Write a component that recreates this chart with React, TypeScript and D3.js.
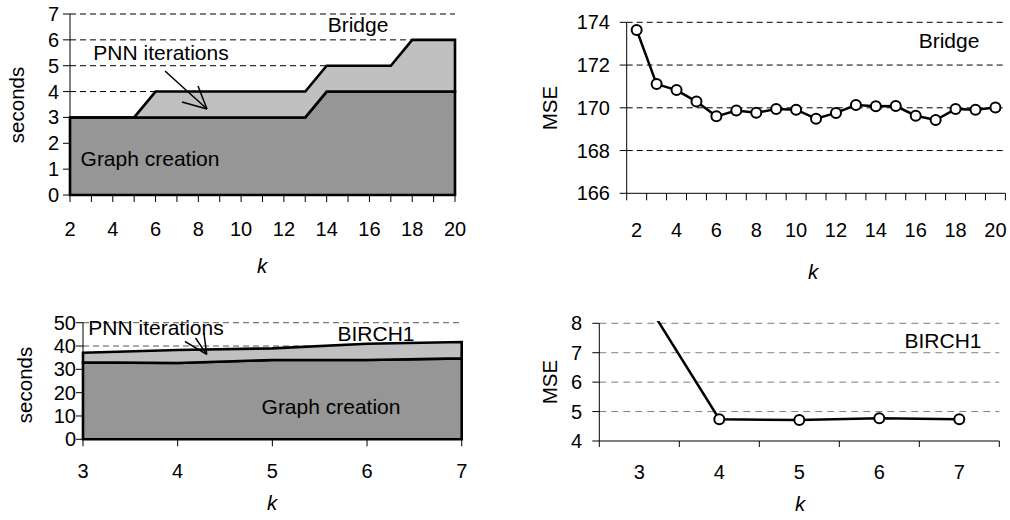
import React from "react";
import * as d3 from "d3";

// ---------- data ----------
const TL_K = [2, 3, 4, 5, 6, 7, 8, 9, 10, 11, 12, 13, 14, 15, 16, 17, 18, 19, 20];
const TL_GRAPH = [3, 3, 3, 3, 3, 3, 3, 3, 3, 3, 3, 3, 4, 4, 4, 4, 4, 4, 4];
const TL_PNN = [0, 0, 0, 0, 1, 1, 1, 1, 1, 1, 1, 1, 1, 1, 1, 1, 2, 2, 2];
const TL_YTICKS = [0, 1, 2, 3, 4, 5, 6, 7];
const TL_XLABELS = [2, 4, 6, 8, 10, 12, 14, 16, 18, 20];

const TR_K = [2, 3, 4, 5, 6, 7, 8, 9, 10, 11, 12, 13, 14, 15, 16, 17, 18, 19, 20];
const TR_MSE = [173.64, 171.11, 170.83, 170.29, 169.6, 169.87, 169.77, 169.94, 169.91, 169.49, 169.76, 170.13, 170.07, 170.08, 169.63, 169.43, 169.94, 169.91, 170.01];
const TR_YTICKS = [166, 168, 170, 172, 174];
const TR_XLABELS = [2, 4, 6, 8, 10, 12, 14, 16, 18, 20];

const BL_K = [3, 4, 5, 6, 7];
const BL_GRAPH = [33, 32.7, 34, 34, 34.7];
const BL_PNN = [4.1, 5.6, 5, 7, 7];
const BL_YTICKS = [0, 10, 20, 30, 40, 50];

const BR_K = [3, 4, 5, 6, 7];
const BR_MSE = [9.1, 4.74, 4.71, 4.77, 4.74];
const BR_YTICKS = [4, 5, 6, 7, 8];

const FONT = "'Liberation Sans', Arial, Helvetica, sans-serif";
const TICK_FS = 20;
const TITLE_FS = 20.5;
const ANN_FS = 21;

function T({ x, y, anchor = "middle", fs = TICK_FS, rot = 0, italic = false, children }: any) {
  return (
    <text
      transform={`translate(${x},${y}) rotate(${rot})`}
      textAnchor={anchor}
      fontSize={fs}
      fontFamily={FONT}
      fontStyle={italic ? "italic" : "normal"}
      fill="#000"
    >
      {children}
    </text>
  );
}

function TopLeft() {
  const x = d3.scaleLinear().domain([2, 20]).range([70, 455]);
  const y = d3.scaleLinear().domain([0, 7]).range([195, 14]);
  const gData = TL_K.map((k, i) => ({ k, y0: 0, y1: TL_GRAPH[i] }));
  const pData = TL_K.map((k, i) => ({ k, y0: TL_GRAPH[i], y1: TL_GRAPH[i] + TL_PNN[i] }));
  const area = d3
    .area<any>()
    .x((d) => x(d.k))
    .y0((d) => y(d.y0))
    .y1((d) => y(d.y1));
  return (
    <g>
      {TL_YTICKS.filter((v) => v > 0).map((v) => (
        <line key={v} x1={x(2)} x2={x(20)} y1={y(v)} y2={y(v)} stroke="#000" strokeDasharray="6,4" strokeWidth={1} />
      ))}
      <path d={area(gData) + "Z"} fill="#969696" stroke="#000" strokeWidth={2.6} strokeLinejoin="miter" />
      <path d={area(pData) + "Z"} fill="#c0c0c0" stroke="#000" strokeWidth={2.6} strokeLinejoin="miter" />
      <line x1={x(2)} x2={x(2)} y1={y(7)} y2={y(0)} stroke="#000" />
      <line x1={x(2)} x2={x(20)} y1={y(0)} y2={y(0)} stroke="#000" />
      {TL_YTICKS.map((v) => (
        <g key={v}>
          <line x1={x(2) - 7} x2={x(2)} y1={y(v)} y2={y(v)} stroke="#000" />
          <T x={x(2) - 11} y={y(v) + 7} anchor="end">{v}</T>
        </g>
      ))}
      {TL_K.map((k) => (
        <line key={k} x1={x(k)} x2={x(k)} y1={y(0)} y2={y(0) + 7} stroke="#000" />
      ))}
      {TL_XLABELS.map((k) => (
        <T key={k} x={x(k)} y={236}>{k}</T>
      ))}
      <T x={262} y={273} fs={TITLE_FS} italic>k</T>
      <T x={24} y={105} fs={TITLE_FS} rot={-90}>seconds</T>
      <T x={358} y={32} fs={ANN_FS}>Bridge</T>
      <T x={161} y={60} fs={ANN_FS}>PNN iterations</T>
      <T x={150} y={166} fs={ANN_FS}>Graph creation</T>
      <line x1={165} y1={71} x2={207} y2={109} stroke="#000" strokeWidth={1.5} />
      <line x1={182} y1={102} x2={207} y2={109} stroke="#000" strokeWidth={1.5} />
      <line x1={198} y1={86} x2={207} y2={109} stroke="#000" strokeWidth={1.5} />
    </g>
  );
}

function TopRight() {
  const x = d3.scaleBand<number>().domain(TR_K).range([626.7, 1005.4]);
  const y = d3.scaleLinear().domain([166, 174]).range([193.3, 22.3]);
  const cx = (k: number) => (x(k) as number) + x.bandwidth() / 2;
  const line = d3
    .line<number>()
    .x((_, i) => cx(TR_K[i]))
    .y((d) => y(d));
  const bounds = [...TR_K.map((k) => x(k) as number), 1005.4];
  return (
    <g>
      {TR_YTICKS.filter((v) => v > 166).map((v) => (
        <line key={v} x1={626.7} x2={1005.4} y1={y(v)} y2={y(v)} stroke="#000" strokeDasharray="6,4" strokeWidth={1} />
      ))}
      <line x1={626.7} x2={626.7} y1={y(174)} y2={y(166)} stroke="#000" />
      <line x1={626.7} x2={1005.4} y1={y(166)} y2={y(166)} stroke="#000" />
      {TR_YTICKS.map((v) => (
        <g key={v}>
          <line x1={619.7} x2={626.7} y1={y(v)} y2={y(v)} stroke="#000" />
          <T x={610} y={y(v) + 7} anchor="end">{v}</T>
        </g>
      ))}
      {bounds.map((b, i) => (
        <line key={i} x1={b} x2={b} y1={y(166)} y2={y(166) + 7} stroke="#000" />
      ))}
      {TR_XLABELS.map((k) => (
        <T key={k} x={cx(k)} y={237}>{k}</T>
      ))}
      <T x={813} y={279} fs={TITLE_FS} italic>k</T>
      <T x={557} y={108} fs={TITLE_FS} rot={-90}>MSE</T>
      <T x={949} y={48} fs={ANN_FS}>Bridge</T>
      <path d={line(TR_MSE) as string} fill="none" stroke="#000" strokeWidth={2.5} />
      {TR_MSE.map((v, i) => (
        <circle key={i} cx={cx(TR_K[i])} cy={y(v)} r={5} fill="#fff" stroke="#000" strokeWidth={2} />
      ))}
    </g>
  );
}

function BottomLeft() {
  const x = d3.scaleLinear().domain([3, 7]).range([83, 461.7]);
  const y = d3.scaleLinear().domain([0, 50]).range([439.3, 322.7]);
  const gData = BL_K.map((k, i) => ({ k, y0: 0, y1: BL_GRAPH[i] }));
  const pData = BL_K.map((k, i) => ({ k, y0: BL_GRAPH[i], y1: BL_GRAPH[i] + BL_PNN[i] }));
  const area = d3
    .area<any>()
    .x((d) => x(d.k))
    .y0((d) => y(d.y0))
    .y1((d) => y(d.y1));
  return (
    <g>
      {BL_YTICKS.filter((v) => v > 0).map((v) => (
        <line key={v} x1={x(3)} x2={x(7)} y1={y(v)} y2={y(v)} stroke="#555" strokeDasharray="6,4" strokeWidth={1} />
      ))}
      <path d={area(gData) + "Z"} fill="#969696" stroke="#000" strokeWidth={2.6} />
      <path d={area(pData) + "Z"} fill="#c0c0c0" stroke="#000" strokeWidth={2.6} />
      <line x1={x(3)} x2={x(3)} y1={y(50)} y2={y(0)} stroke="#000" />
      <line x1={x(3)} x2={x(7)} y1={y(0)} y2={y(0)} stroke="#000" />
      {BL_YTICKS.map((v) => (
        <g key={v}>
          <line x1={x(3) - 7} x2={x(3)} y1={y(v)} y2={y(v)} stroke="#000" />
          <T x={x(3) - 7} y={y(v) + 7} anchor="end">{v}</T>
        </g>
      ))}
      {BL_K.map((k) => (
        <g key={k}>
          <line x1={x(k)} x2={x(k)} y1={y(0)} y2={y(0) + 7} stroke="#000" />
          <T x={x(k)} y={478}>{k}</T>
        </g>
      ))}
      <T x={272} y={510} fs={TITLE_FS} italic>k</T>
      <T x={32} y={385} fs={TITLE_FS} rot={-90}>seconds</T>
      <T x={156} y={335} fs={ANN_FS}>PNN iterations</T>
      <T x={376} y={341} fs={ANN_FS}>BIRCH1</T>
      <T x={331} y={414} fs={ANN_FS}>Graph creation</T>
      <line x1={185} y1={341.5} x2={206.7} y2={354.3} stroke="#000" strokeWidth={1.5} />
      <line x1={195.5} y1={338} x2={206.7} y2={354.3} stroke="#000" strokeWidth={1.5} />
      <line x1={204} y1={333.5} x2={206.7} y2={354.3} stroke="#000" strokeWidth={1.5} />
    </g>
  );
}

function BottomRight() {
  const x = d3.scaleBand<number>().domain(BR_K).range([599.3, 999.3]);
  const y = d3.scaleLinear().domain([4, 8]).range([441, 323.3]);
  const cx = (k: number) => (x(k) as number) + x.bandwidth() / 2;
  const line = d3
    .line<number>()
    .x((_, i) => cx(BR_K[i]))
    .y((d) => y(d));
  const bounds = [...BR_K.map((k) => x(k) as number), 999.3];
  return (
    <g>
      <defs>
        <clipPath id="brclip">
          <rect x={599.3} y={321} width={400} height={122} />
        </clipPath>
      </defs>
      {BR_YTICKS.filter((v) => v > 4).map((v) => (
        <line key={v} x1={599.3} x2={999.3} y1={y(v)} y2={y(v)} stroke="#808080" strokeDasharray="7,5" strokeWidth={1} />
      ))}
      <line x1={599.3} x2={599.3} y1={y(8)} y2={y(4)} stroke="#000" />
      <line x1={599.3} x2={999.3} y1={y(4)} y2={y(4)} stroke="#000" />
      {BR_YTICKS.map((v) => (
        <g key={v}>
          <line x1={592.3} x2={599.3} y1={y(v)} y2={y(v)} stroke="#000" />
          <T x={582} y={y(v) + 7} anchor="end">{v}</T>
        </g>
      ))}
      {bounds.map((b, i) => (
        <line key={i} x1={b} x2={b} y1={y(4)} y2={y(4) + 6} stroke="#000" />
      ))}
      {BR_K.map((k) => (
        <T key={k} x={cx(k)} y={479}>{k}</T>
      ))}
      <T x={800} y={511} fs={TITLE_FS} italic>k</T>
      <T x={557} y={382} fs={TITLE_FS} rot={-90}>MSE</T>
      <T x={943} y={348} fs={ANN_FS}>BIRCH1</T>
      <g clipPath="url(#brclip)">
        <path d={line(BR_MSE) as string} fill="none" stroke="#000" strokeWidth={2.5} />
        {BR_MSE.map((v, i) => (
          <circle key={i} cx={cx(BR_K[i])} cy={y(v)} r={5} fill="#fff" stroke="#000" strokeWidth={2} />
        ))}
      </g>
    </g>
  );
}

export default function App() {
  return (
    <svg
      width={1010}
      height={520}
      style={{ position: "absolute", left: 0, top: 0, background: "#fff" }}
    >
      <rect x={0} y={0} width={1010} height={520} fill="#fff" />
      <TopLeft />
      <TopRight />
      <BottomLeft />
      <BottomRight />
    </svg>
  );
}
